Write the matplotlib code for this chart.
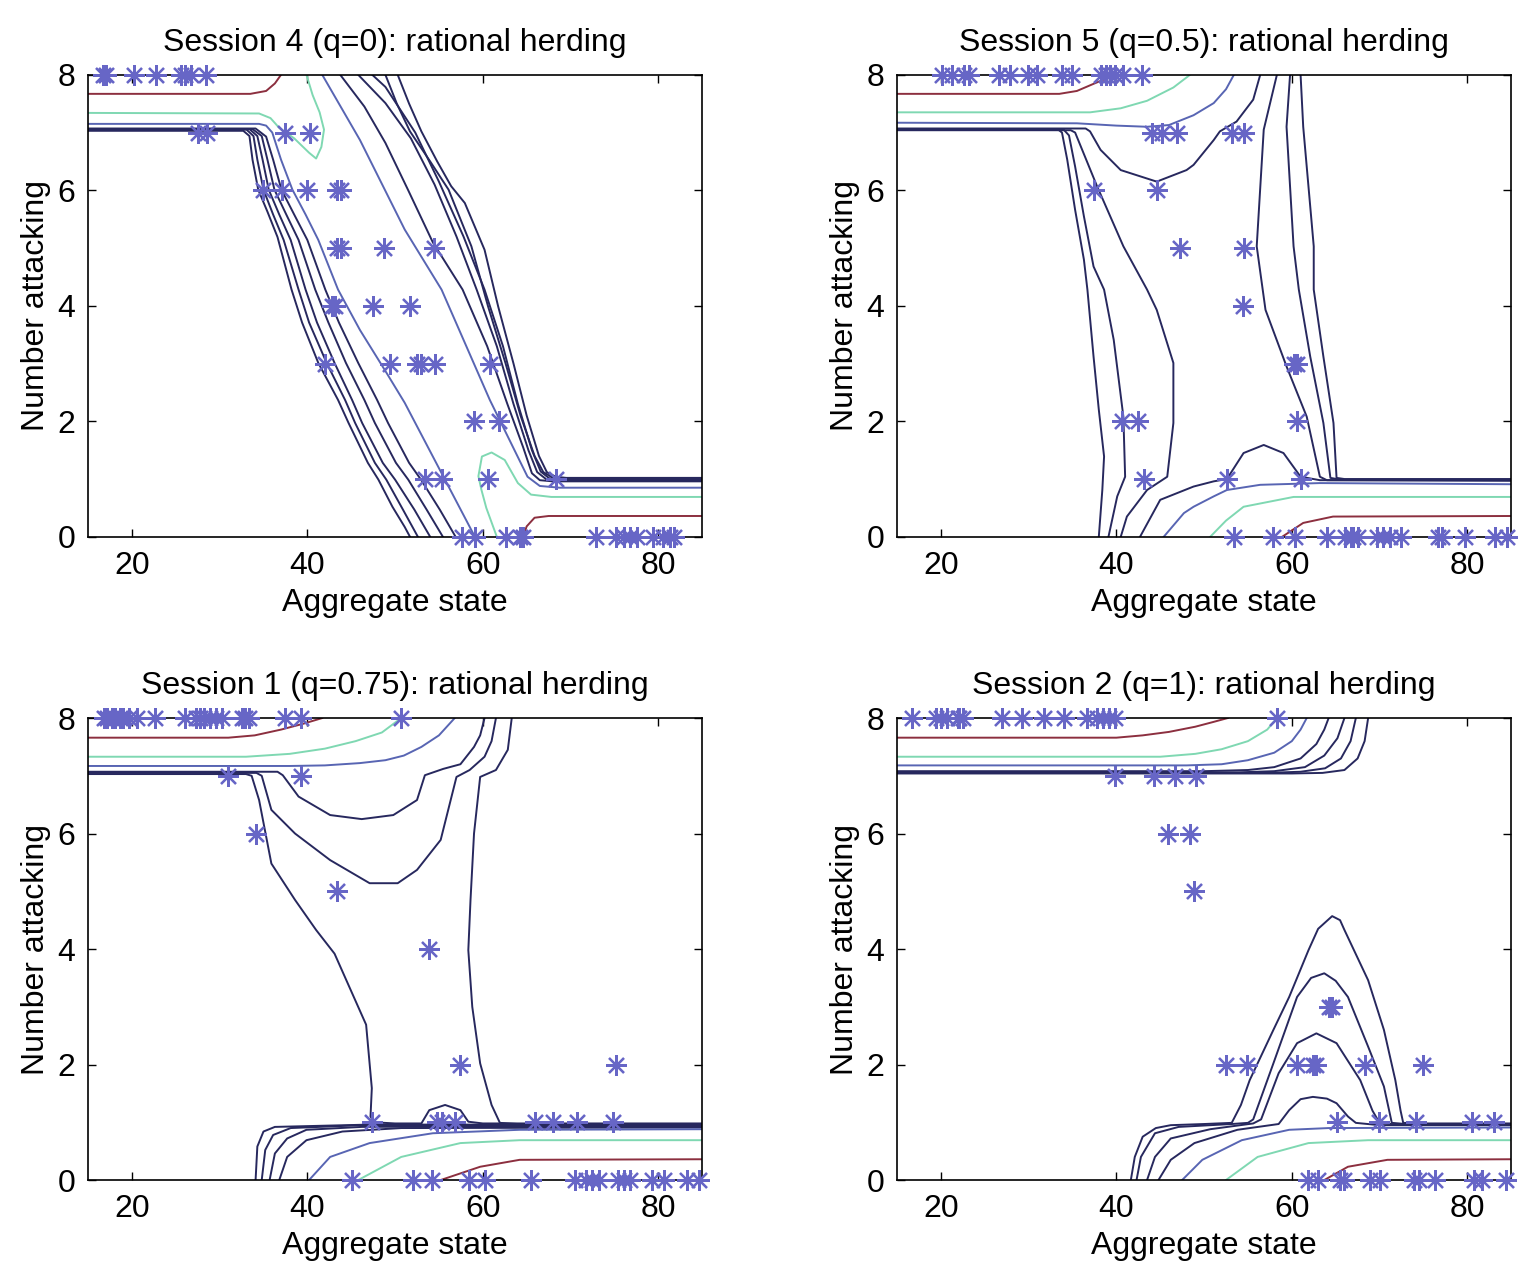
import matplotlib
matplotlib.use("Agg")
import matplotlib.pyplot as plt
import numpy as np

plt.rcParams['font.family'] = ['Liberation Sans', 'DejaVu Sans']

# ---------------- colours ----------------
COL = {"navy": "#27285e", "blue": "#5865b3", "green": "#7fd8b2", "red": "#8c2f3f"}
STAR = "#6766c6"

# ---------------- titles / labels ----------------
titles = ["Session 4 (q=0): rational herding", "Session 5 (q=0.5): rational herding",
          "Session 1 (q=0.75): rational herding", "Session 2 (q=1): rational herding"]
xlabel = "Aggregate state"
ylabel = "Number attacking"
xticks = [20, 40, 60, 80]
yticks = [0, 2, 4, 6, 8]

# ---------------- observed decisions (stars), by number attacking ----------------
s4_rows = {
    8: [16.7, 17.0, 20.2, 22.7, 25.6, 26.1, 26.7, 28.4],
    7: [27.5, 28.6, 37.5, 40.3],
    6: [35.0, 37.1, 40.0, 43.4, 43.8],
    5: [43.4, 43.8, 48.7, 54.4],
    4: [42.8, 43.2, 47.5, 51.7],
    3: [42.0, 49.4, 52.5, 52.9, 54.5, 60.8],
    2: [59.0, 61.8],
    1: [53.4, 55.3, 60.6, 68.4],
    0: [57.6, 59.1, 62.7, 64.2, 64.6, 72.9, 75.2, 76.1, 76.8, 77.6, 79.4, 80.5, 81.3, 81.8],
}
s5_rows = {
    8: [20.1, 21.3, 22.6, 23.2, 26.6, 27.9, 29.9, 31.0, 33.8, 35.0, 38.2, 38.8, 39.3, 39.9, 40.8, 42.9],
    7: [44.1, 45.2, 46.9, 53.2, 54.5],
    6: [37.4, 44.6],
    5: [47.3, 54.5],
    4: [54.4],
    3: [60.2, 60.6],
    2: [40.6, 42.5, 60.6],
    1: [43.2, 52.6, 61.0],
    0: [53.4, 57.9, 60.4, 64.0, 66.1, 66.7, 67.0, 67.6, 69.7, 70.4, 71.2, 72.5, 76.7, 77.1, 79.7, 83.2, 84.5],
}
s1_rows = {
    8: [16.8, 17.2, 17.7, 18.1, 18.6, 19.0, 19.7, 20.6, 22.6, 26.0, 27.3, 27.8, 28.2, 28.9, 29.6,
        30.3, 32.5, 32.9, 33.4, 37.5, 39.3, 50.7],
    7: [30.9, 39.3],
    6: [34.1],
    5: [43.4],
    4: [53.9],
    2: [57.4, 75.2],
    1: [47.4, 54.8, 55.4, 56.8, 66.0, 68.0, 70.7, 74.8],
    0: [45.1, 52.1, 54.2, 58.4, 60.2, 65.5, 70.5, 71.8, 72.5, 73.2, 75.4, 76.1, 76.8, 79.3, 80.6, 83.3, 84.6],
}
s2_rows = {
    8: [16.7, 19.4, 20.0, 20.7, 21.9, 22.1, 22.5, 27.0, 29.3, 31.7, 34.0, 36.7, 37.8, 38.5, 39.2, 39.9, 58.3],
    7: [39.9, 44.3, 46.7, 49.1],
    6: [45.9, 48.4],
    5: [48.9],
    3: [64.2, 64.6],
    2: [52.5, 54.9, 60.6, 62.4, 62.8, 68.4, 75.0],
    1: [65.1, 69.9, 74.1, 80.5, 83.1],
    0: [61.9, 63.0, 65.5, 66.0, 68.9, 70.0, 73.9, 74.5, 76.3, 80.8, 81.7, 84.4],
}

# ---------------- contour lines: (colour, [(x, y), ...]) ----------------
s4_lines = [
    ("red", [(15, 7.67), (33.5, 7.67), (35.3, 7.72), (36.3, 7.85), (37.0, 8.0)]),
    ("green", [(15, 7.34), (34.5, 7.33), (35.8, 7.25), (36.8, 7.08), (38.5, 6.9), (40.2, 6.65), (41.0, 6.55),
               (41.6, 6.75), (41.9, 7.05), (41.4, 7.35), (40.6, 7.65), (39.9, 8.0)]),
    ("blue", [(15, 7.15), (34.5, 7.15), (35.3, 7.12), (36.0, 7.0), (37.0, 6.53), (38.3, 6.01), (39.8, 5.58),
              (41.25, 5.14), (43.5, 4.28), (46.0, 3.58), (48.9, 2.87), (51.1, 2.32), (55.1, 1.16), (59.1, 0)]),
    ("navy", [(15, 7.03), (32.7, 7.03), (33.4, 6.94), (33.75, 6.53), (34.4, 6.01), (35.45, 5.63), (36.6, 5.19),
              (38.2, 4.28), (39.4, 3.71), (41.25, 3.01), (43.5, 2.37), (44.7, 1.97), (46.9, 1.28), (48.1, 0.99),
              (49.7, 0.52), (51.1, 0.17), (51.7, 0)]),
    ("navy", [(15, 7.05), (33.07, 7.05), (33.86, 6.94), (34.3, 6.53), (35.0, 6.01), (36.1, 5.58), (37.3, 5.14),
              (39.0, 4.28), (40.2, 3.71), (42.2, 3.01), (44.3, 2.37), (45.45, 1.97), (47.7, 1.28), (49.0, 0.99),
              (50.9, 0.47), (52.6, 0)]),
    ("navy", [(15, 7.06), (33.4, 7.06), (34.3, 6.94), (34.9, 6.53), (35.6, 6.01), (36.8, 5.58), (38.1, 5.14),
              (39.8, 4.28), (41.1, 3.71), (43.1, 3.01), (45.1, 2.37), (46.25, 1.97), (48.6, 1.28), (50.0, 0.99),
              (52.2, 0.47), (54.0, 0)]),
    ("navy", [(15, 7.06), (33.75, 7.06), (34.8, 6.94), (35.45, 6.53), (36.25, 6.01), (37.6, 5.58), (39.0, 5.14),
              (40.9, 4.28), (42.4, 3.71), (44.4, 3.01), (46.5, 2.37), (47.7, 1.97), (50.1, 1.28), (51.5, 0.99),
              (53.6, 0.47), (55.45, 0)]),
    ("navy", [(15, 7.07), (34.1, 7.07), (35.3, 6.93), (36.1, 6.53), (37.05, 6.01), (38.5, 5.58), (40.0, 5.14),
              (42.05, 4.28), (43.6, 3.71), (45.8, 3.01), (47.95, 2.37), (49.2, 1.97), (51.6, 1.28), (52.95, 0.99),
              (55.1, 0.47), (56.9, 0)]),
    ("blue", [(41.7, 8.0), (46.0, 6.87), (51.1, 5.32), (55.3, 4.28), (60.8, 2.37), (65.1, 1.04), (66.5, 0.88),
              (68.75, 0.85), (85, 0.85)]),
    ("navy", [(43.75, 8.0), (46.5, 7.45), (48.9, 6.82), (51.5, 6.0), (54.3, 5.1), (57.7, 4.28), (60.5, 3.3),
              (62.8, 2.3), (64.6, 1.55), (65.6, 1.1), (66.5, 0.98), (68, 0.96), (85, 0.96)]),
    ("navy", [(45.8, 8.0), (48.9, 7.51), (51.8, 6.9), (54.5, 6.1), (57.0, 5.2), (59.3, 4.28), (61.6, 3.3),
              (63.5, 2.3), (65.2, 1.5), (66.2, 1.12), (67.2, 1.0), (68.5, 0.98), (85, 0.98)]),
    ("navy", [(47.4, 8.0), (48.9, 7.79), (52.3, 7.0), (55.0, 6.15), (57.8, 5.2), (60.2, 4.28), (62.3, 3.3),
              (64.0, 2.3), (65.6, 1.5), (66.6, 1.13), (67.6, 1.01), (69, 0.99), (85, 0.99)]),
    ("navy", [(48.9, 8.0), (50.2, 7.5), (51.7, 7.02), (54.0, 6.5), (56.1, 6.01), (58.7, 5.03), (60.6, 3.99),
              (62.6, 3.0), (64.3, 2.1), (65.9, 1.4), (66.9, 1.12), (68.0, 1.02), (69.5, 1.0), (85, 1.0)]),
    ("navy", [(50.3, 8.0), (51.6, 7.5), (53.0, 7.02), (54.8, 6.5), (56.4, 6.07), (57.95, 5.78), (60.2, 4.97),
              (61.75, 3.99), (63.5, 3.0), (65.0, 2.1), (66.4, 1.4), (67.3, 1.12), (68.3, 1.04), (69.5, 1.02),
              (85, 1.02)]),
    ("green", [(61.6, 0.0), (60.4, 0.5), (59.85, 0.81), (59.5, 1.05), (59.9, 1.39), (61.0, 1.46), (62.5, 1.33),
               (64.0, 0.93), (65.5, 0.73), (67.8, 0.69), (85, 0.69)]),
    ("red", [(64.6, 0), (65.0, 0.18), (65.9, 0.33), (67.5, 0.36), (85, 0.36)]),
]

s5_lines = [
    ("red", [(15, 7.67), (33.5, 7.67), (35.5, 7.72), (37.5, 7.85), (39.9, 8.0)]),
    ("green", [(15, 7.35), (37, 7.35), (40.5, 7.42), (43.5, 7.55), (46.5, 7.78), (48.4, 8.0)]),
    ("blue", [(15, 7.17), (35.5, 7.16), (40, 7.12), (43.5, 7.1), (46, 7.13), (48.8, 7.3), (51.1, 7.51),
              (52.5, 7.75), (53.4, 8.0)]),
    ("navy", [(15, 7.06), (33.3, 7.06), (33.8, 7.0), (34.4, 6.53), (35.3, 5.66), (36.3, 4.8), (36.7, 4.28),
              (37.4, 3.12), (38.0, 2.2), (38.6, 1.39), (38.4, 0.81), (38.0, 0)]),
    ("navy", [(15, 7.05), (34.0, 7.05), (34.6, 6.95), (35.3, 6.41), (36.3, 5.55), (37.4, 4.68), (38.6, 4.28),
              (39.7, 3.41), (40.8, 2.08), (41.0, 1.04), (40.1, 0.7), (39.1, 0)]),
    ("navy", [(15, 7.04), (34.8, 7.04), (35.3, 7.0), (37.8, 6.07), (40.8, 5.03), (43.5, 4.28), (44.6, 3.93),
              (46.5, 3.01), (46.5, 1.97), (45.8, 1.04), (43.5, 0.81), (41.2, 0.35), (40.5, 0)]),
    ("navy", [(15, 7.07), (36.5, 7.07), (37.0, 7.02), (38.2, 6.7), (40.5, 6.35), (44.6, 6.15), (48.0, 6.35),
              (48.8, 6.44), (51.1, 6.87), (51.8, 7.02), (53.7, 7.19), (55.6, 7.57), (56.4, 8.0)]),
    ("navy", [(58.3, 8.0), (56.8, 7.05), (56.0, 5.03), (57.0, 3.93), (59.4, 2.95), (61.7, 2.08), (63.2, 1.04),
              (64.0, 0.98), (85, 0.97)]),
    ("navy", [(59.8, 8.0), (59.4, 7.1), (60.2, 5.03), (60.8, 4.28), (62.1, 3.12), (63.6, 1.97), (64.4, 1.02),
              (65.5, 0.99), (85, 0.99)]),
    ("navy", [(61.0, 8.0), (61.3, 7.1), (62.5, 5.03), (62.5, 4.28), (63.6, 3.12), (64.75, 1.97), (65.1, 1.02),
              (66, 1.0), (85, 1.0)]),
    ("navy", [(42.7, 0), (45.0, 0.64), (48.8, 0.87), (51.1, 0.96), (52.6, 1.0), (54.5, 1.45), (56.8, 1.59),
              (59.05, 1.45), (61.0, 1.04), (63.2, 0.98), (85, 0.98)]),
    ("blue", [(45.4, 0), (47.7, 0.41), (48.8, 0.52), (51.1, 0.7), (52.6, 0.81), (56.4, 0.9), (63.2, 0.93),
              (85, 0.91)]),
    ("green", [(50.7, 0), (52.5, 0.28), (54.5, 0.52), (60.2, 0.69), (85, 0.69)]),
    ("red", [(58.9, 0), (61.3, 0.24), (64.7, 0.35), (85, 0.36)]),
]

s1_lines = [
    ("red", [(15, 7.66), (31, 7.66), (34, 7.7), (37, 7.8), (39.5, 7.9), (41.7, 8.0)]),
    ("green", [(15, 7.33), (33, 7.33), (38, 7.38), (42, 7.47), (45.5, 7.6), (48.5, 7.75), (50.7, 8.0)]),
    ("blue", [(15, 7.17), (38, 7.17), (42, 7.18), (46, 7.22), (48.9, 7.27), (51, 7.35), (53, 7.5), (55, 7.7),
              (56.8, 8.0)]),
    ("navy", [(15, 7.03), (33.0, 7.03), (33.65, 7.0), (34.5, 6.58), (35.9, 5.48), (38.6, 4.85), (41.0, 4.33),
              (43.1, 3.92), (46.7, 2.69), (47.35, 1.59), (47.2, 1.1), (47.6, 1.0), (50, 0.98), (53.0, 0.98),
              (53.9, 1.21), (55.7, 1.3), (57.45, 1.21), (58.35, 1.01), (60, 0.98), (85, 0.98)]),
    ("navy", [(63.3, 8.0), (62.85, 7.45), (61.5, 7.1), (59.7, 6.98), (59.0, 6.0), (58.6, 4.85), (58.35, 3.98),
              (58.8, 3.0), (59.7, 2.02), (61.0, 1.3), (61.95, 0.99), (64, 0.97), (85, 0.97)]),
    ("navy", [(15, 7.05), (34.2, 7.05), (34.8, 7.0), (35.9, 6.41), (38.6, 6.0), (42.6, 5.54), (47.1, 5.14),
              (50.3, 5.14), (52.5, 5.37), (55.2, 5.89), (57.0, 6.98), (58.5, 7.1), (60.2, 7.33), (61.0, 7.6),
              (61.5, 8.0)]),
    ("navy", [(15, 7.07), (36.6, 7.07), (37.2, 7.01), (39.0, 6.64), (42.6, 6.32), (46.2, 6.25), (49.8, 6.32),
              (52.5, 6.58), (53.4, 7.01), (55.5, 7.12), (57.45, 7.2), (59.0, 7.5), (59.7, 7.7), (60.2, 8.0)]),
    ("navy", [(34.1, 0), (34.3, 0.58), (35.0, 0.84), (36.3, 0.92), (47.1, 0.96), (60, 0.96), (85, 0.96)]),
    ("navy", [(34.8, 0), (35.2, 0.52), (36.1, 0.78), (38.1, 0.9), (46.2, 0.95), (85, 0.95)]),
    ("navy", [(35.7, 0), (36.3, 0.46), (37.7, 0.72), (39.9, 0.87), (46.2, 0.92), (60, 0.93), (85, 0.93)]),
    ("navy", [(36.8, 0), (37.7, 0.40), (39.9, 0.69), (44.0, 0.84), (50.7, 0.9), (85, 0.91)]),
    ("blue", [(40.2, 0), (42.6, 0.40), (47.1, 0.64), (54.3, 0.81), (64.2, 0.87), (85, 0.88)]),
    ("green", [(45.8, 0), (50.7, 0.40), (57.45, 0.64), (64.2, 0.69), (85, 0.69)]),
    ("red", [(55.2, 0), (59.7, 0.23), (64.2, 0.35), (85, 0.36)]),
]

s2_lines = [
    ("red", [(15, 7.66), (40, 7.66), (43, 7.7), (46, 7.76), (49, 7.85), (51, 7.93), (52.7, 8.0)]),
    ("green", [(15, 7.33), (45, 7.33), (49, 7.38), (52, 7.46), (55, 7.6), (57.2, 7.8), (58.3, 8.0)]),
    ("blue", [(15, 7.18), (48, 7.18), (52, 7.2), (55, 7.27), (58, 7.4), (60, 7.6), (61, 7.8), (61.7, 8.0)]),
    ("navy", [(15, 7.08), (50, 7.08), (55, 7.1), (58, 7.15), (61, 7.3), (62.8, 7.55), (63.7, 7.8), (64.2, 8.0)]),
    ("navy", [(15, 7.06), (54, 7.06), (58, 7.08), (61.5, 7.15), (63.7, 7.35), (65.2, 7.65), (66.0, 8.0)]),
    ("navy", [(15, 7.05), (57, 7.05), (61, 7.07), (63.8, 7.13), (65.6, 7.3), (66.7, 7.6), (67.3, 8.0)]),
    ("navy", [(15, 7.04), (60, 7.04), (63.5, 7.05), (66, 7.1), (67.5, 7.3), (68.3, 7.6), (68.7, 8.0)]),
    ("navy", [(41.65, 0), (42.1, 0.40), (43.0, 0.75), (44.5, 0.9), (46.2, 0.95), (50, 0.97), (53.15, 0.99),
              (54.2, 1.3), (55.2, 1.73), (57.9, 2.6), (59.7, 3.17), (61.9, 3.98), (63.0, 4.35), (64.6, 4.57),
              (65.5, 4.5), (66.0, 4.33), (68.7, 3.46), (70.5, 2.6), (71.8, 1.73), (72.4, 1.2), (72.7, 0.99),
              (75, 0.98), (85, 0.98)]),
    ("navy", [(42.3, 0), (42.8, 0.40), (44.4, 0.81), (47.1, 0.92), (53.15, 0.97), (55.0, 0.99), (55.6, 1.05),
              (57.9, 2.02), (60.6, 3.17), (62.2, 3.5), (63.7, 3.58), (65.0, 3.45), (66.4, 3.17), (68.7, 2.31),
              (70.5, 1.62), (71.4, 0.99), (73, 0.97), (85, 0.97)]),
    ("navy", [(43.5, 0), (44.4, 0.40), (46.2, 0.72), (50.7, 0.88), (55.6, 0.98), (56.5, 1.05), (58.5, 1.85),
              (60.6, 2.37), (62.8, 2.54), (65.1, 2.37), (67.8, 1.73), (69.2, 1.2), (70.0, 0.99), (72, 0.96),
              (85, 0.96)]),
    ("navy", [(44.8, 0), (46.2, 0.35), (48.9, 0.64), (53.8, 0.87), (58.5, 0.97), (59.7, 1.21), (61.0, 1.4),
              (62.4, 1.44), (64.0, 1.41), (65.1, 1.33), (66.4, 1.1), (67.3, 0.99), (70, 0.95), (85, 0.95)]),
    ("blue", [(47.5, 0), (49.8, 0.35), (54.3, 0.69), (59.7, 0.87), (64.2, 0.9), (85, 0.91)]),
    ("green", [(52.5, 0), (56.1, 0.40), (61.9, 0.64), (68.7, 0.69), (85, 0.69)]),
    ("red", [(63.7, 0), (66.4, 0.23), (70.9, 0.35), (85, 0.36)]),
]

panels = [(titles[0], s4_rows, s4_lines), (titles[1], s5_rows, s5_lines),
          (titles[2], s1_rows, s1_lines), (titles[3], s2_rows, s2_lines)]

# ---------------- figure ----------------
fig = plt.figure(figsize=(15.23, 12.72), dpi=100)
W, H = 0.4032, 0.3632
positions = [(0.0578, 0.578), (0.589, 0.578), (0.0578, 0.0723), (0.589, 0.0723)]
FS = 23

for (title, rows, lines), (left, bottom) in zip(panels, positions):
    ax = fig.add_axes([left, bottom, W, H])
    for kind, pts in lines:
        xs = [p[0] for p in pts]
        ys = [p[1] for p in pts]
        ax.plot(xs, ys, color=COL[kind], lw=1.4, solid_joinstyle='round', zorder=2)
    sx, sy = [], []
    for yv, xv in rows.items():
        sx.extend(xv)
        sy.extend([yv] * len(xv))
    ax.plot(sx, sy, linestyle='none', marker=(8, 2, 0), ms=15, mec=STAR, mfc=STAR,
            mew=1.6, clip_on=False, zorder=4)
    ax.set_xlim(15, 85)
    ax.set_ylim(0, 8)
    ax.set_xticks(xticks)
    ax.set_yticks(yticks)
    ax.tick_params(direction='in', top=True, right=True, length=6, width=1, labelsize=FS)
    ax.tick_params(axis='x', pad=10)
    ax.tick_params(axis='y', pad=9)
    for sp in ax.spines.values():
        sp.set_linewidth(1.2)
    ax.set_title(title, fontsize=FS, pad=17)
    ax.set_xlabel(xlabel, fontsize=FS, labelpad=5)
    ax.set_ylabel(ylabel, fontsize=FS, labelpad=5)

fig.savefig("out.png", dpi=100, facecolor='white')
